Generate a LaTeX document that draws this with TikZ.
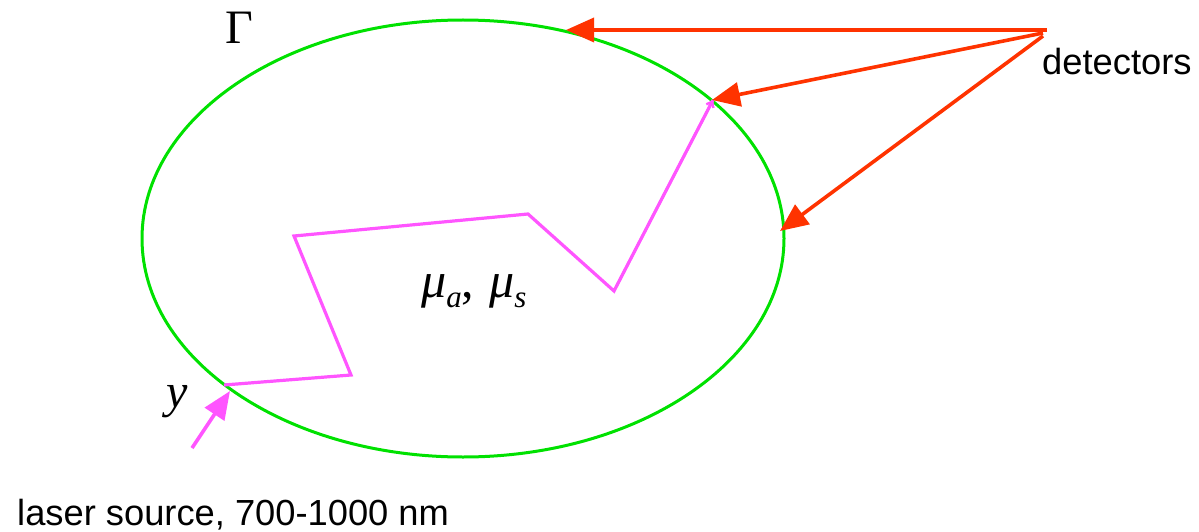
\documentclass[tikz,border=0pt]{standalone}
\usepackage{fontspec}
\setmainfont{Liberation Serif}
\newfontfamily\hlv{Liberation Sans}
\usetikzlibrary{arrows.meta,calc}
\definecolor{redc}{RGB}{255,51,0}
\definecolor{grnc}{RGB}{0,225,0}
\definecolor{magc}{RGB}{255,85,255}
\begin{document}
\begin{tikzpicture}[x=1pt,y=-1pt,
  redarr/.style={draw=redc,line width=3.6pt,-{Triangle[length=28pt,width=24pt]}},
  magarr/.style={draw=magc,line width=3.6pt,-{Triangle[length=28pt,width=23pt]}},
  walk/.style={draw=magc,line width=3.2pt,line join=miter},
  border/.style={draw=grnc,line width=3pt},
  lbl/.style={anchor=base west,inner sep=0pt},
  sans/.style={font=\hlv\fontsize{36.3}{38}\selectfont},
  serif/.style={font=\fontsize{48}{50}\selectfont}]
\useasboundingbox (0,0) rectangle (1199,532);
% boundary Gamma
\draw[border] (463,238.5) ellipse [x radius=321, y radius=218.5];
% coordinates
\coordinate (det0) at (1047,30);
\coordinate (det1) at (1043,33);
\coordinate (det2) at (1043,36);
\coordinate (t0) at (566,30);
\coordinate (t1) at (712,100);
\coordinate (t2) at (780,231);
\coordinate (src) at (192,448);
\coordinate (ent) at (230,391);
\coordinate (p0) at (224,385);
\coordinate (p1) at (351,375);
\coordinate (p2) at (294,236);
\coordinate (p3) at (528,214);
\coordinate (p4) at (614,291);
\coordinate (p5) at (713,100);
% photon walk
\draw[walk] (p0) -- (p1) -- (p2) -- (p3) -- (p4) -- (p5);
\draw[draw=magc,line width=2.4pt,-{Straight Barb[length=5pt,width=8pt]}] ($(p5)!0.97!(p4)$) -- (p5);
% arrows
\draw[redarr] (det0) -- (t0);
\draw[redarr] (det1) -- (t1);
\draw[redarr] (det2) -- (t2);
\draw[magarr] (src) -- (ent);
% labels
\node[lbl,serif] (gam) at (225,44) {Γ};
\node[lbl,sans] (det) at (1042,75) {detectors};
\node[lbl,sans] (las) at (17,525) {laser source, 700-1000 nm};
\node[lbl,serif] (yy) at (166,407) {\itshape y};
\node[lbl,font=\fontsize{50}{52}\selectfont] (mu) at (421,297)
  {\itshape μ\raisebox{-0.2em}{\fontsize{31}{31}\selectfont a}\upshape,\hspace{0.3em}\itshape μ\raisebox{-0.2em}{\fontsize{31}{31}\selectfont s}};
\end{tikzpicture}
\end{document}
